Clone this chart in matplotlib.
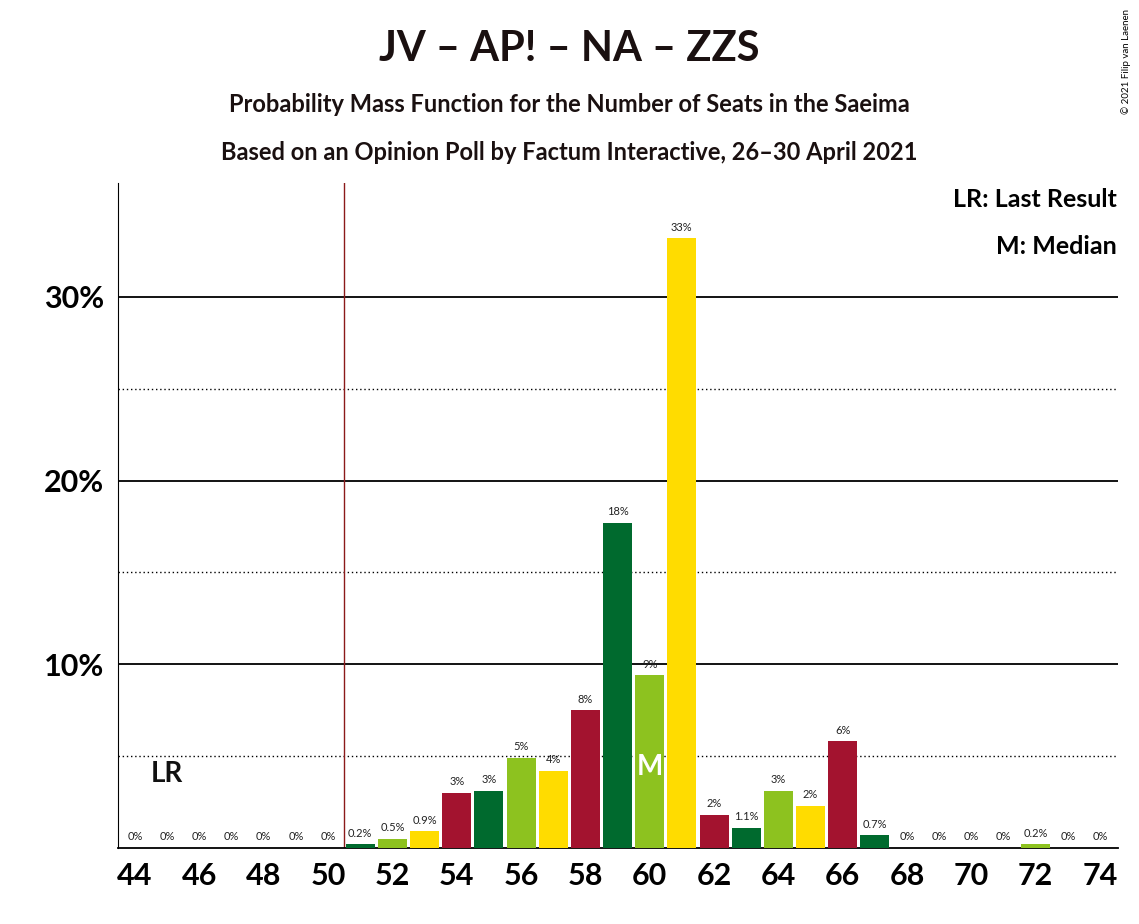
import numpy as np
import matplotlib.pyplot as plt

plt.rcParams['font.family'] = ['Lato', 'DejaVu Sans']

seats = np.arange(44, 75)
probs = [0, 0, 0, 0, 0, 0, 0,
         0.2, 0.5, 0.9, 3.0, 3.1, 4.9, 4.2, 7.5, 17.7, 9.4, 33.2,
         1.8, 1.1, 3.1, 2.3, 5.8, 0.7, 0, 0, 0, 0, 0.2, 0, 0]
labels = ['0%'] * 7 + ['0.2%', '0.5%', '0.9%', '3%', '3%', '5%', '4%', '8%', '18%',
                       '9%', '33%', '2%', '1.1%', '3%', '2%', '6%', '0.7%',
                       '0%', '0%', '0%', '0%', '0.2%', '0%', '0%']
last_result = 45
median = 60
palette = ['#A3132F', '#006A2E', '#8DC21F', '#FFDC00']

fig = plt.figure(figsize=(11.39, 9.24), dpi=100)
ax = fig.add_axes([0.1036, 0.0823, 0.878, 0.7197])

cols = [palette[(s - 54) % 4] for s in seats]
ax.bar(seats, probs, width=0.9, color=cols, zorder=3)

for s, p, l in zip(seats, probs, labels):
    ax.text(s, p + 0.3, l, ha='center', va='bottom', fontsize=8, color='#222222', zorder=4)

for y in [10, 20, 30]:
    ax.axhline(y, color='black', lw=1.3, zorder=1)
for y in [5, 15, 25]:
    ax.axhline(y, color='black', lw=1, ls=(0, (1, 2)), zorder=1)

ax.axvline(50.5, color='#8B1A1A', lw=1, zorder=2)
ax.text(last_result, 4.0, 'LR', ha='center', va='center', fontsize=20, fontweight='bold', color='#111111')
ax.text(median, median and probs[median - 44] * 0 + 4.4, 'M', ha='center', va='center',
        fontsize=20, fontweight='bold', color='white', zorder=5)

ax.set_xlim(43.47, 74.56)
ax.set_ylim(0, 36.2)
ax.set_xticks(np.arange(44, 75, 2))
ax.set_xticklabels([str(s) for s in range(44, 75, 2)], fontsize=22, fontweight='bold')
ax.set_yticks([10, 20, 30])
ax.set_yticklabels(['10%', '20%', '30%'], fontsize=22, fontweight='bold')
ax.tick_params(length=0, pad=10)
for side in ['top', 'right']:
    ax.spines[side].set_visible(False)
ax.spines['bottom'].set_linewidth(1.3)

ax.text(0.999, 0.975, 'LR: Last Result', transform=ax.transAxes, ha='right', va='center',
        fontsize=18, fontweight='bold')
ax.text(0.999, 0.905, 'M: Median', transform=ax.transAxes, ha='right', va='center',
        fontsize=18, fontweight='bold')

fig.text(0.5, 0.947, 'JV – AP! – NA – ZZS', ha='center', va='center', fontsize=30, fontweight='bold', color='#1a1010')
fig.text(0.5, 0.887, 'Probability Mass Function for the Number of Seats in the Saeima', ha='center',
         va='center', fontsize=17, fontweight='bold', color='#1a1010')
fig.text(0.5, 0.835, 'Based on an Opinion Poll by Factum Interactive, 26–30 April 2021', ha='center',
         va='center', fontsize=17, fontweight='bold', color='#1a1010')
fig.text(0.993, 0.99, '© 2021 Filip van Laenen', rotation=90, ha='right', va='top', fontsize=7)

fig.savefig('out.png', dpi=100)
